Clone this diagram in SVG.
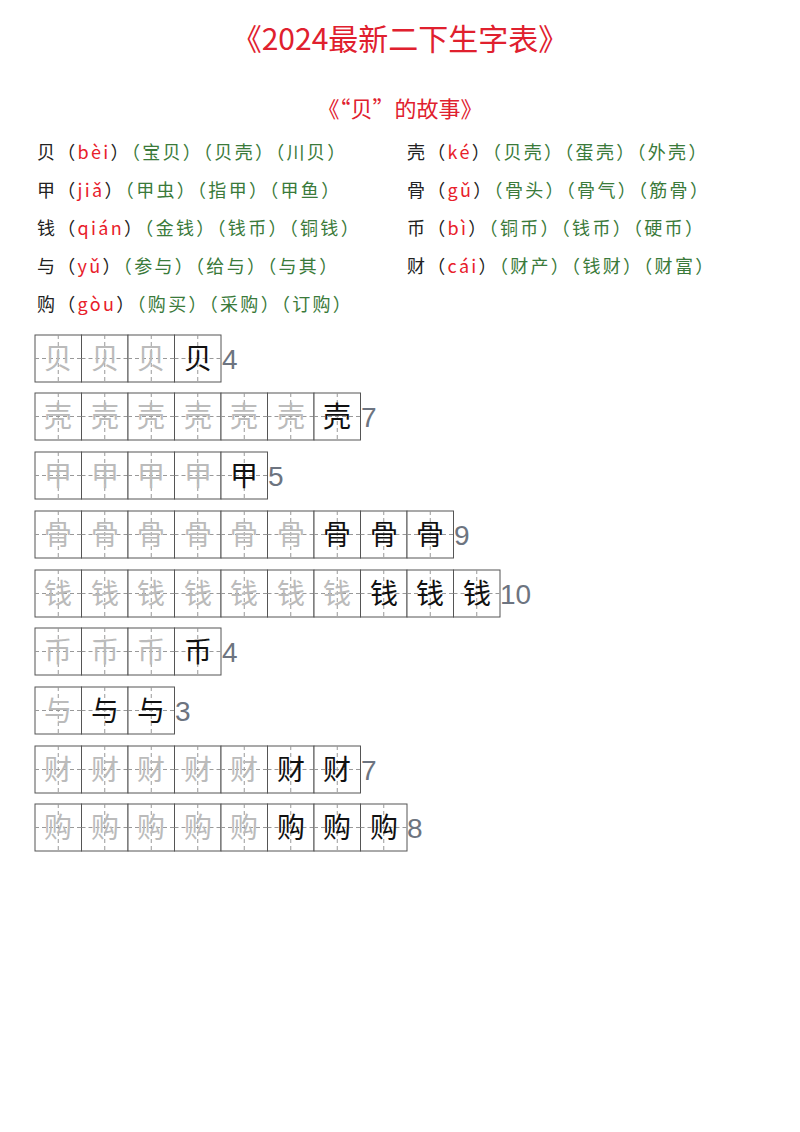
<svg xmlns="http://www.w3.org/2000/svg" width="800" height="1132" viewBox="0 0 800 1132">
<style>
text{font-family:"Noto Sans CJK SC","Noto Sans",sans-serif}
.t{fill:#e0202e;font-size:30px}
.s{fill:#e0202e;font-size:22px}
.w{font-size:18px;fill:#222;letter-spacing:2.3px}
.r{fill:#e8202a}
.g{fill:#3a7a3a}
.cell{fill:#fff;stroke:#555;stroke-width:1}
.d{stroke:#999;stroke-width:1;stroke-dasharray:4 3}
.ch{font-size:28px;fill:#111;text-anchor:middle}
.p{fill:#bbb}
.n{font-family:"Liberation Sans",sans-serif;font-size:28px;fill:#6d7480}
</style>
<rect width="800" height="1132" fill="#fff"/>
<text class="t" x="400" y="50" text-anchor="middle">《2024最新二下生字表》</text>
<text class="s" x="400" y="117" text-anchor="middle">《“贝”的故事》</text>
<g class="w">
<text x="37" y="159">贝（<tspan class="r">bèi</tspan>）<tspan class="g">（宝贝）（贝壳）（川贝）</tspan></text>
<text x="37" y="197">甲（<tspan class="r">jiǎ</tspan>）<tspan class="g">（甲虫）（指甲）（甲鱼）</tspan></text>
<text x="37" y="235">钱（<tspan class="r">qián</tspan>）<tspan class="g">（金钱）（钱币）（铜钱）</tspan></text>
<text x="37" y="273">与（<tspan class="r">yǔ</tspan>）<tspan class="g">（参与）（给与）（与其）</tspan></text>
<text x="37" y="311">购（<tspan class="r">gòu</tspan>）<tspan class="g">（购买）（采购）（订购）</tspan></text>
<text x="407" y="159">壳（<tspan class="r">ké</tspan>）<tspan class="g">（贝壳）（蛋壳）（外壳）</tspan></text>
<text x="407" y="197">骨（<tspan class="r">gǔ</tspan>）<tspan class="g">（骨头）（骨气）（筋骨）</tspan></text>
<text x="407" y="235">币（<tspan class="r">bì</tspan>）<tspan class="g">（铜币）（钱币）（硬币）</tspan></text>
<text x="407" y="273">财（<tspan class="r">cái</tspan>）<tspan class="g">（财产）（钱财）（财富）</tspan></text>
</g>
<defs>
<g id="c"><rect class="cell" x="0" y="0" width="46.5" height="47"/><line class="d" x1="0" y1="23.5" x2="46.5" y2="23.5"/><line class="d" x1="23.25" y1="0" x2="23.25" y2="47"/></g>
</defs>
<g id="r1"><use href="#c" x="35" y="335"/><use href="#c" x="81.5" y="335"/><use href="#c" x="128" y="335"/><use href="#c" x="174.5" y="335"/>
<text class="ch p" x="58" y="369">贝</text><text class="ch p" x="105" y="369">贝</text><text class="ch p" x="151" y="369">贝</text><text class="ch" x="198" y="369">贝</text><text class="n" x="222" y="369">4</text></g>
<g id="r2"><use href="#c" x="35" y="393"/><use href="#c" x="81.5" y="393"/><use href="#c" x="128" y="393"/><use href="#c" x="174.5" y="393"/><use href="#c" x="221" y="393"/><use href="#c" x="267.5" y="393"/><use href="#c" x="314" y="393"/>
<text class="ch p" x="58" y="427">壳</text><text class="ch p" x="105" y="427">壳</text><text class="ch p" x="151" y="427">壳</text><text class="ch p" x="198" y="427">壳</text><text class="ch p" x="244" y="427">壳</text><text class="ch p" x="291" y="427">壳</text><text class="ch" x="337" y="427">壳</text><text class="n" x="361" y="427">7</text></g>
<g id="r3"><use href="#c" x="35" y="452"/><use href="#c" x="81.5" y="452"/><use href="#c" x="128" y="452"/><use href="#c" x="174.5" y="452"/><use href="#c" x="221" y="452"/>
<text class="ch p" x="58" y="486">甲</text><text class="ch p" x="105" y="486">甲</text><text class="ch p" x="151" y="486">甲</text><text class="ch p" x="198" y="486">甲</text><text class="ch" x="244" y="486">甲</text><text class="n" x="268" y="486">5</text></g>
<g id="r4"><use href="#c" x="35" y="511"/><use href="#c" x="81.5" y="511"/><use href="#c" x="128" y="511"/><use href="#c" x="174.5" y="511"/><use href="#c" x="221" y="511"/><use href="#c" x="267.5" y="511"/><use href="#c" x="314" y="511"/><use href="#c" x="360.5" y="511"/><use href="#c" x="407" y="511"/>
<text class="ch p" x="58" y="545">骨</text><text class="ch p" x="105" y="545">骨</text><text class="ch p" x="151" y="545">骨</text><text class="ch p" x="198" y="545">骨</text><text class="ch p" x="244" y="545">骨</text><text class="ch p" x="291" y="545">骨</text><text class="ch" x="337" y="545">骨</text><text class="ch" x="384" y="545">骨</text><text class="ch" x="430" y="545">骨</text><text class="n" x="454" y="545">9</text></g>
<g id="r5"><use href="#c" x="35" y="570"/><use href="#c" x="81.5" y="570"/><use href="#c" x="128" y="570"/><use href="#c" x="174.5" y="570"/><use href="#c" x="221" y="570"/><use href="#c" x="267.5" y="570"/><use href="#c" x="314" y="570"/><use href="#c" x="360.5" y="570"/><use href="#c" x="407" y="570"/><use href="#c" x="453.5" y="570"/>
<text class="ch p" x="58" y="604">钱</text><text class="ch p" x="105" y="604">钱</text><text class="ch p" x="151" y="604">钱</text><text class="ch p" x="198" y="604">钱</text><text class="ch p" x="244" y="604">钱</text><text class="ch p" x="291" y="604">钱</text><text class="ch p" x="337" y="604">钱</text><text class="ch" x="384" y="604">钱</text><text class="ch" x="430" y="604">钱</text><text class="ch" x="477" y="604">钱</text><text class="n" x="500" y="604">10</text></g>
<g id="r6"><use href="#c" x="35" y="628"/><use href="#c" x="81.5" y="628"/><use href="#c" x="128" y="628"/><use href="#c" x="174.5" y="628"/>
<text class="ch p" x="58" y="662">币</text><text class="ch p" x="105" y="662">币</text><text class="ch p" x="151" y="662">币</text><text class="ch" x="198" y="662">币</text><text class="n" x="222" y="662">4</text></g>
<g id="r7"><use href="#c" x="35" y="687"/><use href="#c" x="81.5" y="687"/><use href="#c" x="128" y="687"/>
<text class="ch p" x="58" y="721">与</text><text class="ch" x="105" y="721">与</text><text class="ch" x="151" y="721">与</text><text class="n" x="175" y="721">3</text></g>
<g id="r8"><use href="#c" x="35" y="746"/><use href="#c" x="81.5" y="746"/><use href="#c" x="128" y="746"/><use href="#c" x="174.5" y="746"/><use href="#c" x="221" y="746"/><use href="#c" x="267.5" y="746"/><use href="#c" x="314" y="746"/>
<text class="ch p" x="58" y="780">财</text><text class="ch p" x="105" y="780">财</text><text class="ch p" x="151" y="780">财</text><text class="ch p" x="198" y="780">财</text><text class="ch p" x="244" y="780">财</text><text class="ch" x="291" y="780">财</text><text class="ch" x="337" y="780">财</text><text class="n" x="361" y="780">7</text></g>
<g id="r9"><use href="#c" x="35" y="804"/><use href="#c" x="81.5" y="804"/><use href="#c" x="128" y="804"/><use href="#c" x="174.5" y="804"/><use href="#c" x="221" y="804"/><use href="#c" x="267.5" y="804"/><use href="#c" x="314" y="804"/><use href="#c" x="360.5" y="804"/>
<text class="ch p" x="58" y="838">购</text><text class="ch p" x="105" y="838">购</text><text class="ch p" x="151" y="838">购</text><text class="ch p" x="198" y="838">购</text><text class="ch p" x="244" y="838">购</text><text class="ch" x="291" y="838">购</text><text class="ch" x="337" y="838">购</text><text class="ch" x="384" y="838">购</text><text class="n" x="407" y="838">8</text></g>
</svg>
